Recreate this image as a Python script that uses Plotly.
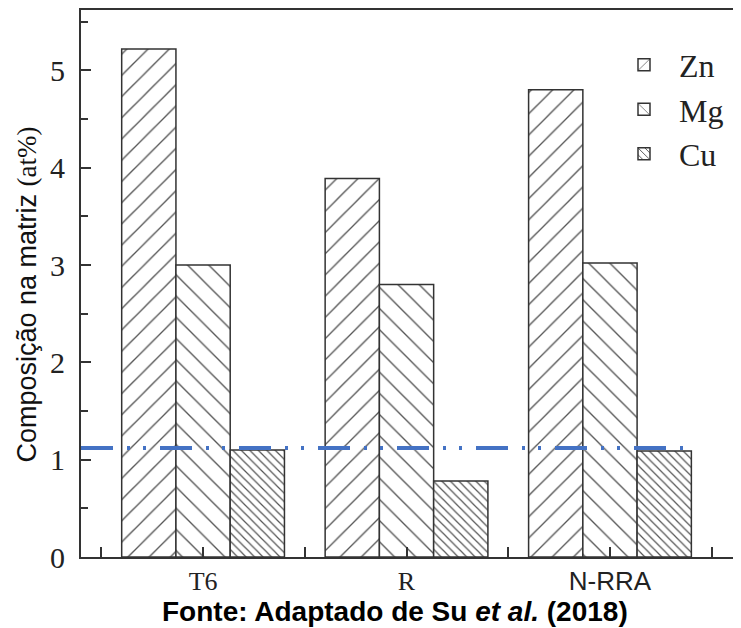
import plotly.graph_objects as go

categories = ["T6", "R", "N-RRA"]
zn = [5.22, 3.89, 4.80]
mg = [3.00, 2.80, 3.02]
cu = [1.10, 0.78, 1.09]
series_names = ["Zn", "Mg", "Cu"]
threshold = 1.12
y_ticks = [0, 1, 2, 3, 4, 5]

x_idx = list(range(len(categories)))
serif = "Liberation Serif, Times New Roman, serif"
sans = "Liberation Sans, Arial, sans-serif"

patterns = [
    dict(shape="/", size=15, solidity=0.09, fgcolor="#555555", bgcolor="white", fillmode="replace"),
    dict(shape="\\", size=15, solidity=0.09, fgcolor="#555555", bgcolor="white", fillmode="replace"),
    dict(shape="\\", size=6, solidity=0.2, fgcolor="#555555", bgcolor="white", fillmode="replace"),
]

fig = go.Figure()
for name, vals, pat in zip(series_names, [zn, mg, cu], patterns):
    fig.add_trace(go.Bar(
        x=x_idx, y=vals, name=name,
        marker=dict(color="white", pattern=pat, line=dict(color="#333333", width=1.5)),
    ))

line_x = [-0.6, 2.41]
fig.add_trace(go.Scatter(
    x=line_x, y=[threshold] * len(line_x), mode="lines", showlegend=False,
    line=dict(color="#4472C4", width=4, dash="32px,14px,3px,13px,3px,14px"),
    cliponaxis=False,
))

tickvals_x = [-0.5, 0, 0.5, 1, 1.5, 2, 2.5]
ticktext_x = ["", "T6", "", "R", "",
              "<span style='font-family:Liberation Sans, Arial'>N-RRA</span>", ""]

fig.update_layout(
    width=733, height=620,
    margin=dict(l=73, r=0, t=2, b=71),
    paper_bgcolor="white", plot_bgcolor="white",
    barmode="group", bargap=0.2, bargroupgap=0,
    showlegend=True,
    legend=dict(
        x=0.80, y=0.95, xanchor="left", yanchor="top",
        font=dict(family=serif, size=32, color="#222222"),
        bgcolor="rgba(0,0,0,0)", itemwidth=60, tracegroupgap=0,
    ),
    xaxis=dict(
        range=[-0.6, 2.644], tickmode="array", tickvals=tickvals_x, ticktext=ticktext_x,
        ticks="inside", ticklen=10, tickwidth=1.5, tickcolor="#333333",
        showline=True, linecolor="#333333", linewidth=2, mirror=True,
        showgrid=False, zeroline=False,
        tickfont=dict(family=serif, size=26, color="#222222"),
        ticklabelstandoff=0,
    ),
    yaxis=dict(
        range=[0, 5.62], tickmode="array", tickvals=y_ticks,
        ticks="inside", ticklen=10, tickwidth=1.5, tickcolor="#333333",
        minor=dict(dtick=0.5, ticks="inside", ticklen=7, tickwidth=1.5, tickcolor="#333333"),
        showline=True, linecolor="#333333", linewidth=2, mirror=False,
        showgrid=False, zeroline=False,
        tickfont=dict(family=serif, size=30, color="#222222"),
        ticklabelstandoff=8,
    ),
    annotations=[
        dict(
            text="Composição na matriz <span style='font-family:Liberation Serif, Times New Roman'>(at%)</span>",
            xref="paper", yref="paper", x=0, y=0.5, xshift=-55, yshift=-11,
            xanchor="center", yanchor="middle", textangle=-90, showarrow=False,
            font=dict(family=sans, size=27, color="#111111"),
        ),
        dict(
            text="<b>Fonte: Adaptado de Su <i>et al.</i> (2018)</b>",
            xref="paper", yref="paper", x=0.475, y=-0.099,
            xanchor="center", yanchor="middle", showarrow=False,
            font=dict(family=sans, size=28, color="black"),
        ),
    ],
)

fig.write_html("out.html")
